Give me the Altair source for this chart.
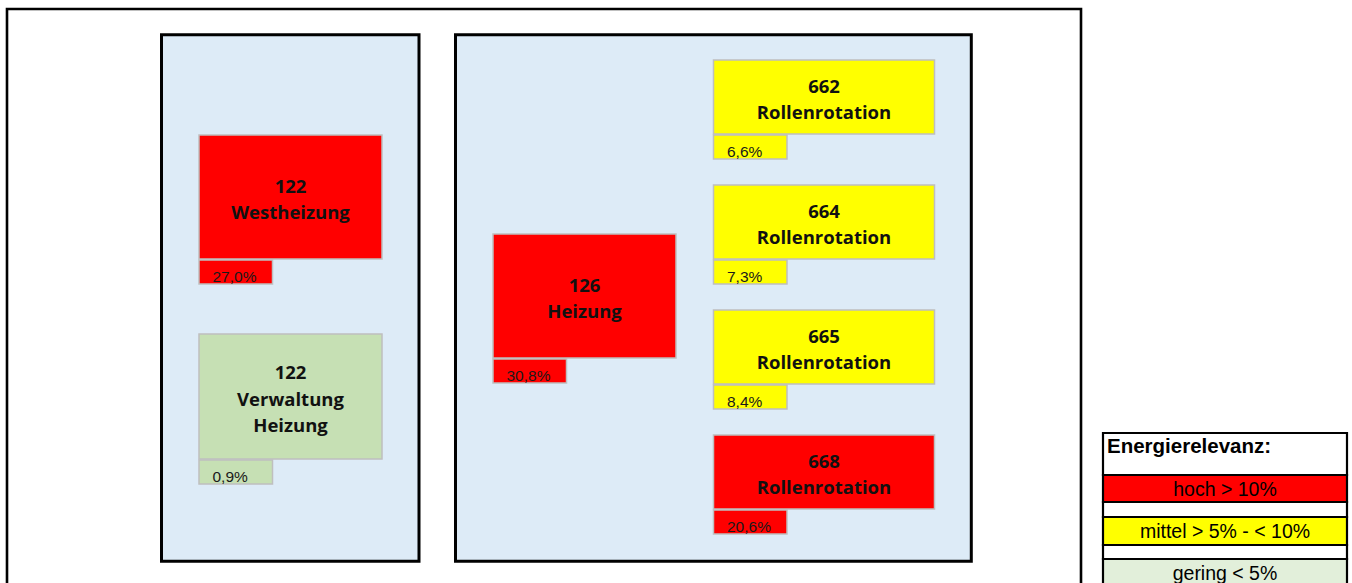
import altair as alt
import pandas as pd

# ---------------- data ----------------
codes = ["122", "122", "126", "662", "664", "665", "668"]
names = ["Westheizung", "Verwaltung\nHeizung", "Heizung", "Rollenrotation",
         "Rollenrotation", "Rollenrotation", "Rollenrotation"]
shares = [27.0, 0.9, 30.8, 6.6, 7.3, 8.4, 20.6]

legend_title = "Energierelevanz:"
legend_labels = ["hoch > 10%", "mittel > 5% - < 10%", "gering < 5%"]

# ---------------- styles ----------------
RED, YELLOW, GREEN, LGREEN, PANEL = "#FF0000", "#FFFF00", "#C6E0B4", "#E2EFDA", "#DDEBF7"
legend_colors = [RED, YELLOW, LGREEN]


def level_color(v):
    if v > 10:
        return RED
    if v > 5:
        return YELLOW
    return GREEN


# ---------------- layout (diagram units) ----------------
W, H = 1352, 583
LINE_H = 26.5
frame = dict(x0=7, x1=1081, y0=9, y1=640)
panels_x0 = [161.5, 455.5]
panels_x1 = [419, 971.3]
panels_y0, panels_y1 = 34.7, 561.3

box_x0 = [199, 199, 493, 713.5, 713.5, 713.5, 713.5]
box_w = [183, 183, 183, 221, 221, 221, 221]
box_y0 = [135, 334, 234, 60, 185, 310, 435]
box_h = [124, 125, 124, 74, 74, 74, 74]
pct_w, pct_h = 73.5, 24

leg_x0, leg_x1 = 1103, 1347
leg_rows_y0 = [433, 475, 502, 517, 545, 559]
leg_rows_y1 = [475, 502, 517, 545, 559, 640]

# ---------------- tables ----------------
labels = [f"{c}\n{n}" for c, n in zip(codes, names)]
boxes = pd.DataFrame({
    "label": labels,
    "nlines": [s.count("\n") + 1 for s in labels],
    "pct": [f"{v:.1f}".replace(".", ",") + "%" for v in shares],
    "fill": [level_color(v) for v in shares],
    "x0": box_x0,
    "x1": [a + b for a, b in zip(box_x0, box_w)],
    "y0": box_y0,
    "y1": [a + b for a, b in zip(box_y0, box_h)],
})
boxes["xc"] = (boxes.x0 + boxes.x1) / 2
boxes["yc"] = (boxes.y0 + boxes.y1) / 2 + 3 - (boxes.nlines - 1) * LINE_H / 2
boxes["py0"] = boxes.y1 + 1
boxes["py1"] = boxes.py0 + pct_h
boxes["px1"] = boxes.x0 + pct_w
boxes["tx"] = boxes.x0 + 13.5
boxes["ty"] = boxes.py1 - 2.5

panels = pd.DataFrame({"x0": panels_x0, "x1": panels_x1,
                       "y0": [panels_y0] * 2, "y1": [panels_y1] * 2})
frame_df = pd.DataFrame([frame])

leg_fill = ["#FFFFFF", legend_colors[0], "#FFFFFF", legend_colors[1], "#FFFFFF", legend_colors[2]]
leg_rows = pd.DataFrame({"x0": leg_x0, "x1": leg_x1, "y0": leg_rows_y0,
                         "y1": leg_rows_y1, "fill": leg_fill})
leg_text = pd.DataFrame({"label": legend_labels, "x": (leg_x0 + leg_x1) / 2,
                         "y": [496, 538, 580]})
leg_head = pd.DataFrame({"label": [legend_title], "x": [leg_x0 + 4], "y": [453]})

XS = alt.Scale(domain=[0, W])
YS = alt.Scale(domain=[0, H], reverse=True)
X = alt.X("x0:Q", scale=XS, axis=None)
X2 = alt.X2("x1:Q")
Y = alt.Y("y0:Q", scale=YS, axis=None)
Y2 = alt.Y2("y1:Q")

frame_layer = alt.Chart(frame_df).mark_rect(fill=None, stroke="black", strokeWidth=2.6, clip=True).encode(
    x=X, x2=X2, y=Y, y2=Y2)
panel_layer = alt.Chart(panels).mark_rect(fill=PANEL, stroke="black", strokeWidth=3).encode(
    x=X, x2=X2, y=Y, y2=Y2)
box_layer = alt.Chart(boxes).mark_rect(stroke="#BFBFBF", strokeWidth=1.5).encode(
    x=X, x2=X2, y=Y, y2=Y2, fill=alt.Fill("fill:N", scale=None))
pct_layer = alt.Chart(boxes).mark_rect(stroke="#BFBFBF", strokeWidth=1.5).encode(
    x=X, x2=alt.X2("px1:Q"), y=alt.Y("py0:Q", scale=YS, axis=None),
    y2=alt.Y2("py1:Q"), fill=alt.Fill("fill:N", scale=None))
label_layer = alt.Chart(boxes).mark_text(
    font="Open Sans", fontWeight="bold", fontSize=18.5, lineBreak="\n", lineHeight=LINE_H,
    align="center", baseline="middle", color="#111111").encode(
    x=alt.X("xc:Q", scale=XS, axis=None),
    y=alt.Y("yc:Q", scale=YS, axis=None),
    text="label:N")
pct_text = alt.Chart(boxes).mark_text(
    font="Liberation Sans", fontSize=15.5, align="left", baseline="alphabetic", color="#1a1a1a").encode(
    x=alt.X("tx:Q", scale=XS, axis=None),
    y=alt.Y("ty:Q", scale=YS, axis=None),
    text="pct:N")
leg_rect = alt.Chart(leg_rows).mark_rect(stroke="black", strokeWidth=2.2, clip=True).encode(
    x=X, x2=X2, y=Y, y2=Y2, fill=alt.Fill("fill:N", scale=None))
leg_txt = alt.Chart(leg_text).mark_text(
    font="Liberation Sans", fontSize=19.5, align="center", baseline="alphabetic", color="black").encode(
    x=alt.X("x:Q", scale=XS, axis=None),
    y=alt.Y("y:Q", scale=YS, axis=None),
    text="label:N")
leg_hd = alt.Chart(leg_head).mark_text(
    font="Liberation Sans", fontWeight="bold", fontSize=20.5, align="left", baseline="alphabetic",
    color="black").encode(
    x=alt.X("x:Q", scale=XS, axis=None),
    y=alt.Y("y:Q", scale=YS, axis=None),
    text="label:N")

chart = alt.layer(frame_layer, panel_layer, box_layer, pct_layer, label_layer, pct_text,
                  leg_rect, leg_txt, leg_hd).properties(
    width=W, height=H, autosize=alt.AutoSizeParams(type="none"), padding=0,
    background="white").configure_view(stroke=None)

chart.save("out.html", embed_options={"renderer": "svg", "actions": False})
